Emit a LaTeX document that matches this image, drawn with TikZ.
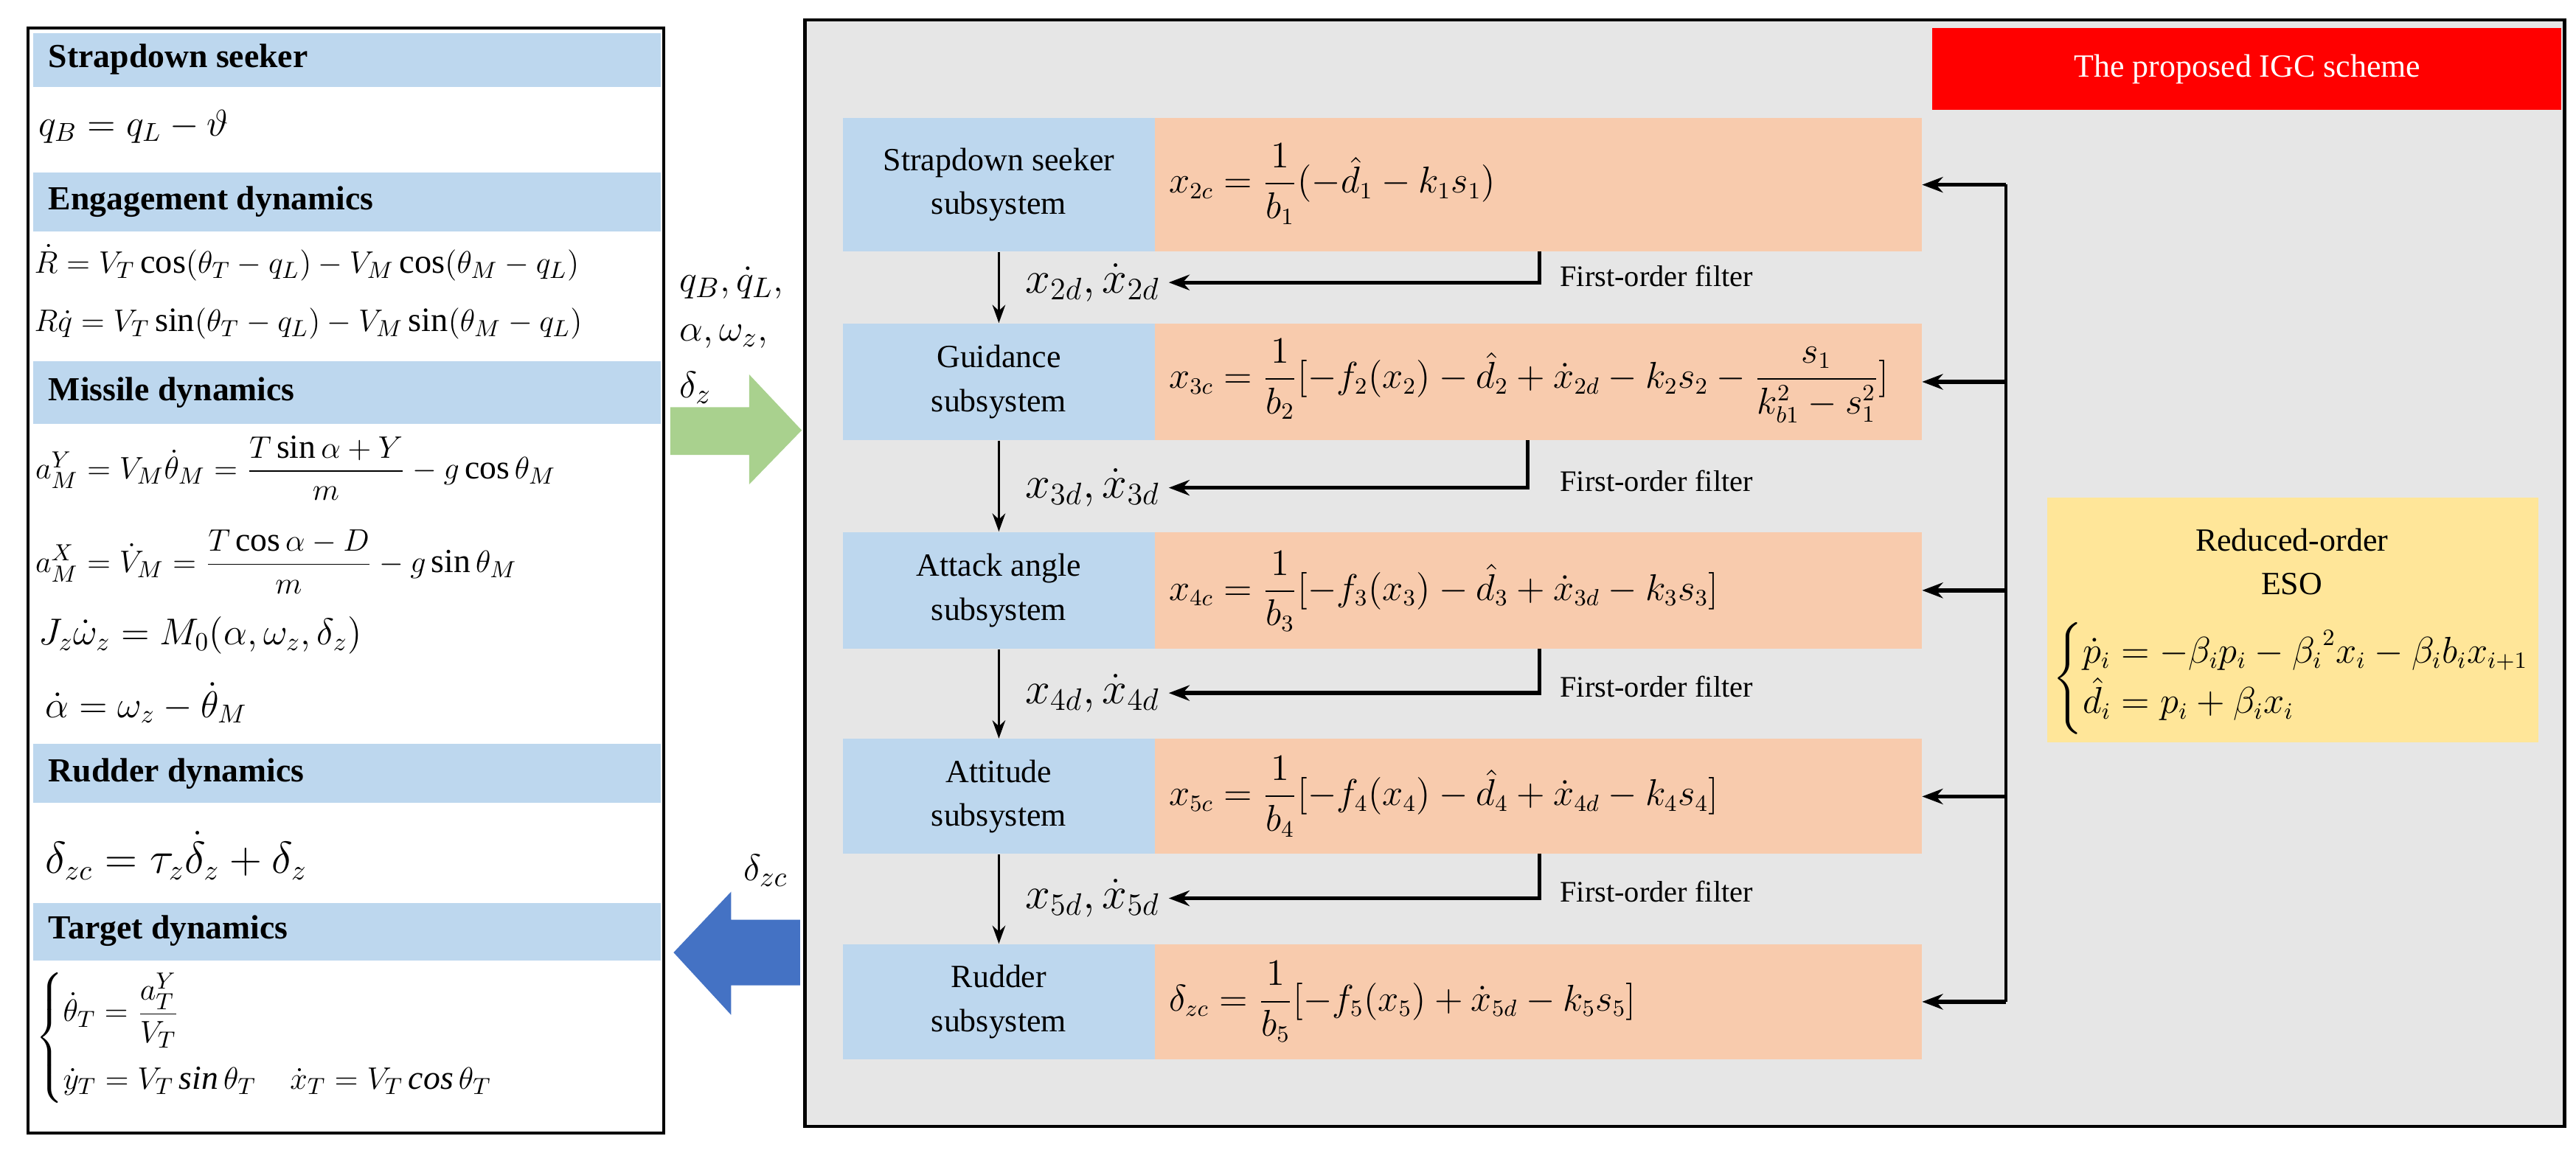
\documentclass[tikz,border=0pt]{standalone}
\usepackage{amsmath}
\usepackage{fontspec}
\setmainfont{Liberation Serif}
\usetikzlibrary{arrows.meta}
\definecolor{hdr}{HTML}{BDD7EE}
\definecolor{org}{HTML}{F8CBAD}
\definecolor{gry}{HTML}{E6E6E6}
\definecolor{yel}{HTML}{FFE699}
\definecolor{grn}{HTML}{A9D18E}
\definecolor{blu}{HTML}{4472C4}
\begin{document}
\begin{tikzpicture}[x=0.022277cm,y=-0.022277cm,
  hd/.style={anchor=west,font=\fontsize{13}{15}\selectfont\bfseries},
  eq/.style={anchor=west,font=\fontsize{14.5}{17}\selectfont},
  req/.style={anchor=west,font=\fontsize{13.5}{15}\selectfont},
  sub/.style={fill=hdr,minimum width=190*0.022277cm,align=center,font=\fontsize{12.5}{17}\selectfont,inner sep=0pt},
  lab/.style={font=\fontsize{15}{17}\selectfont},
  fl/.style={anchor=west,font=\fontsize{11.5}{13}\selectfont},
  va/.style={-{Stealth[length=7pt,width=5pt]},line width=0.9pt},
  fa/.style={-{Stealth[length=8pt,width=6pt]},line width=1.5pt}]
\useasboundingbox (0,0) rectangle (1568,700);
% left panel
\draw[line width=1.2pt] (17,17) rectangle (404,690);
\foreach \a/\b in {20/53,105/141,220/258,453/489,550/585}
  \fill[hdr] (20,\a) rectangle (402,\b);
\node[hd] (h1) at (24,36) {Strapdown seeker};
\node[hd] (h2) at (24,123) {Engagement dynamics};
\node[hd] (h3) at (24,239) {Missile dynamics};
\node[hd] (h4) at (24,471) {Rudder dynamics};
\node[hd] (h5) at (24,567) {Target dynamics};
\node[eq] (e1) at (18,77) {$q_B=q_L-\vartheta$};
\node[eq,font=\fontsize{13.2}{16}\selectfont,inner sep=1pt] (e2) at (19,160) {$\dot R=V_T\cos(\theta_T-q_L)-V_M\cos(\theta_M-q_L)$};
\node[eq,font=\fontsize{13.2}{16}\selectfont,inner sep=1pt] (e3) at (19,197) {$R\dot q=V_T\sin(\theta_T-q_L)-V_M\sin(\theta_M-q_L)$};
\node[eq,font=\fontsize{13}{15}\selectfont] (e4) at (16,285) {$a_M^Y=V_M\dot\theta_M=\dfrac{T\sin\alpha+Y}{m}-g\cos\theta_M$};
\node[eq,font=\fontsize{13}{15}\selectfont] (e5) at (16,342) {$a_M^X=\dot V_M=\dfrac{T\cos\alpha-D}{m}-g\sin\theta_M$};
\node[eq] (e6) at (18,387) {$J_z\dot\omega_z=M_0(\alpha,\omega_z,\delta_z)$};
\node[eq] (e7) at (22,428) {$\dot\alpha=\omega_z-\dot\theta_M$};
\node[eq,font=\fontsize{16}{18}\selectfont] (e8) at (22,521) {$\delta_{zc}=\tau_z\dot\delta_z+\delta_z$};
\node[eq,font=\fontsize{13}{15}\selectfont] (e9) at (16,632) {$\begin{cases}\dot\theta_T=\dfrac{a_T^Y}{V_T}\\[8pt] \dot y_T=V_T\,\mathit{sin}\,\theta_T\quad \dot x_T=V_T\,\mathit{cos}\,\theta_T\end{cases}$};
% arrows between panels
\fill[grn] (408,248)--(456,248)--(456,228)--(488,262)--(456,295)--(456,277)--(408,277)--cycle;
\fill[blu] (487,560)--(445,560)--(445,543)--(410,580)--(445,618)--(445,600)--(487,600)--cycle;
\node[lab,anchor=west] (l1) at (408,172) {$q_B,\dot q_L,$};
\node[lab,anchor=west] (l2) at (408,205) {$\alpha,\omega_z,$};
\node[lab,anchor=west] (l3) at (408,236) {$\delta_z$};
\node[lab] (l4) at (466,530) {$\delta_{zc}$};
% right panel
\draw[fill=gry,line width=1.2pt] (490,12) rectangle (1561,686);
\fill[red] (1176,17) rectangle (1559,67);
\node[text=white,font=\fontsize{12.5}{14}\selectfont] (title) at (1368,42) {The proposed IGC scheme};
% rows
\foreach \n/\t/\b in {1/72/153,2/197/268,3/324/395,4/450/520,5/575/645}{
  \fill[org] (703,\t) rectangle (1170,\b);
  \node[sub,minimum height=(\b-\t)*0.022277cm] (s\n) at (608,{(\t+\b)/2}) {};
  \coordinate (o\n) at (1170,{(\t+\b)/2});
}
\node[align=center,font=\fontsize{12.5}{17}\selectfont] at (s1) {Strapdown seeker\\subsystem};
\node[align=center,font=\fontsize{12.5}{17}\selectfont] at (s2) {Guidance\\subsystem};
\node[align=center,font=\fontsize{12.5}{17}\selectfont] at (s3) {Attack angle\\subsystem};
\node[align=center,font=\fontsize{12.5}{17}\selectfont] at (s4) {Attitude\\subsystem};
\node[align=center,font=\fontsize{12.5}{17}\selectfont] at (s5) {Rudder\\subsystem};
\node[req] (r1) at (706,112) {$x_{2c}=\dfrac{1}{b_1}(-\hat d_1-k_1s_1)$};
\node[req] (r2) at (706,232) {$x_{3c}=\dfrac{1}{b_2}[-f_2(x_2)-\hat d_2+\dot x_{2d}-k_2s_2-\dfrac{s_1}{k_{b1}^2-s_1^2}]$};
\node[req] (r3) at (706,360) {$x_{4c}=\dfrac{1}{b_3}[-f_3(x_3)-\hat d_3+\dot x_{3d}-k_3s_3]$};
\node[req] (r4) at (706,485) {$x_{5c}=\dfrac{1}{b_4}[-f_4(x_4)-\hat d_4+\dot x_{4d}-k_4s_4]$};
\node[req] (r5) at (706,610) {$\delta_{zc}=\dfrac{1}{b_5}[-f_5(x_5)+\dot x_{5d}-k_5s_5]$};
% vertical arrows
\foreach \a/\b in {1/2,2/3,3/4,4/5} \draw[va] (s\a.south) -- (s\b.north);
% filters
\foreach \n/\x/\y/\m/\s in {1/937/172/2/153,2/930/297/3/268,3/937/422/4/395,4/937/547/5/520}{
  \node[lab,font=\fontsize{17}{19}\selectfont] (x\n) at (665,\y) {$x_{\m d},\dot x_{\m d}$};
  \coordinate (c\n) at (\x,\y);
  \draw[fa] (\x,\s) -- (c\n) -- (x\n.east);
  \node[fl] (f\n) at (944,{\y-4}) {First-order filter};
}
% ESO
\fill[yel] (1246,303) rectangle (1545,452);
\node[align=center,font=\fontsize{12.5}{17}\selectfont] (eso) at (1395,342) {Reduced-order\\ESO};
\node[anchor=west,font=\fontsize{13.5}{16}\selectfont,inner sep=2pt] (esoeq) at (1246,413) {$\begin{cases}\dot p_i=-\beta_ip_i-{\beta_i}^2x_i-\beta_ib_ix_{i+1}\\ \hat d_i=p_i+\beta_ix_i\end{cases}$};
\coordinate (fb1) at (1221,112);
\coordinate (fb5) at (1221,610);
\draw[line width=1.3pt] (fb1) -- (fb5);
\foreach \n in {1,...,5} \draw[fa] (1221,0 |- o\n) -- (o\n);
\end{tikzpicture}
\end{document}
